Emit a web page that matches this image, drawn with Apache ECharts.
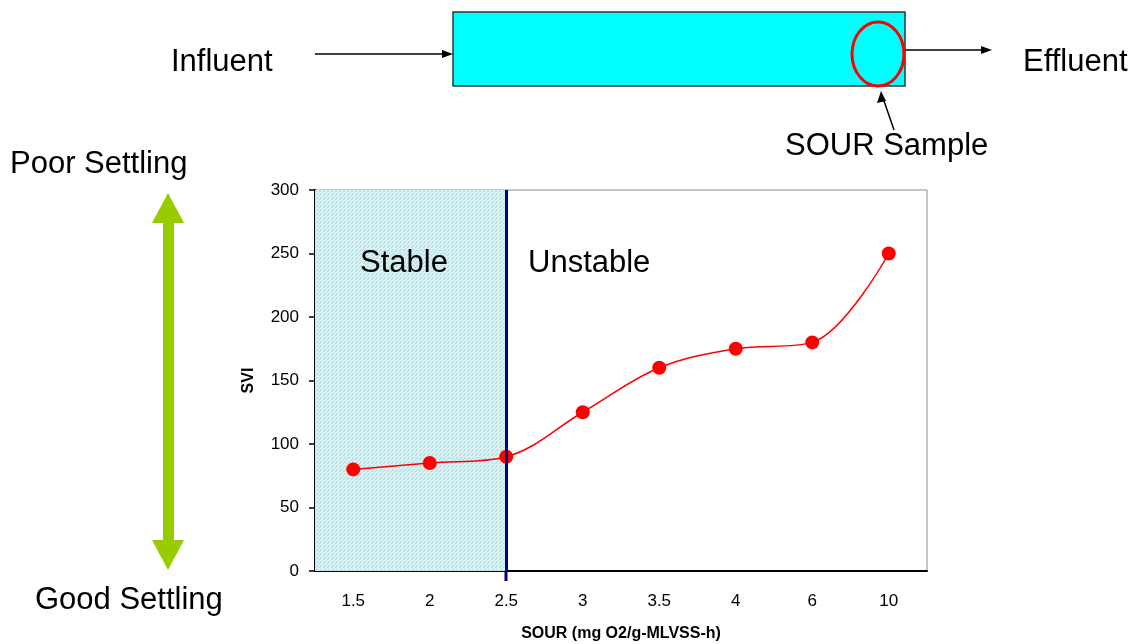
<!DOCTYPE html>
<html>
<head>
<meta charset="utf-8">
<script src="https://cdn.jsdelivr.net/npm/echarts@6/dist/echarts.min.js"></script>
<style>
  html, body { margin: 0; padding: 0; background: #fff; }
  #chart { width: 1134px; height: 644px; }
</style>
</head>
<body>
<div id="chart"></div>
<script>
// SOUR categories on the x axis and SVI values
var sourCats = ['1.5', '2', '2.5', '3', '3.5', '4', '6', '10']
var sviValues = [80, 85, 90, 125, 160, 175, 180, 250]
var sviTicks = [0, 50, 100, 150, 200, 250, 300]
var stableLimit = '2.5'

var FONT = 'Liberation Sans, Arial, sans-serif'

// dotted light cyan fill for the stable zone
function dotPattern () {
  var c = document.createElement('canvas')
  c.width = 4
  c.height = 4
  var ctx = c.getContext('2d')
  ctx.fillStyle = '#d9f0f2'
  ctx.fillRect(0, 0, 4, 4)
  ctx.fillStyle = '#a6d8dc'
  ctx.fillRect(1, 1, 1, 1)
  ctx.fillRect(3, 3, 1, 1)
  ctx.fillRect(0, 2, 1, 1)
  return c
}

var chart = echarts.init(document.getElementById('chart'))

function arrowHead (x, y, dir) {
  // small black head pointing right (dir=1) along a horizontal line
  return {
    type: 'polygon',
    shape: { points: [[x, y], [x - 11 * dir, y - 4], [x - 11 * dir, y + 4]] },
    style: { fill: '#000' }
  }
}

function label (text, x, y) {
  return { type: 'text', x: x, y: y, z: 10, style: { text: text, font: '31px ' + FONT, fill: '#000', verticalAlign: 'middle' } }
}

chart.setOption({
  animation: false,
  grid: {
    left: 315, right: 207, top: 190, bottom: 73,
    outerBoundsMode: 'none',
    show: true, borderColor: '#8c8c8c', borderWidth: 1
  },
  xAxis: {
    type: 'category',
    data: sourCats,
    name: 'SOUR (mg O2/g-MLVSS-h)',
    nameLocation: 'middle',
    nameGap: 55,
    nameTextStyle: { fontFamily: FONT, fontSize: 16, fontWeight: 'bold', color: '#000' },
    axisLine: { lineStyle: { color: '#000', width: 2 } },
    axisTick: { length: 6, lineStyle: { color: '#000', width: 1.5 } },
    axisLabel: { fontFamily: FONT, fontSize: 17, color: '#000', margin: 22 },
    splitLine: { show: false }
  },
  yAxis: {
    type: 'value',
    min: sviTicks[0],
    max: sviTicks[sviTicks.length - 1],
    interval: 50,
    name: 'SVI',
    nameLocation: 'middle',
    nameGap: 58,
    nameTextStyle: { fontFamily: FONT, fontSize: 16, fontWeight: 'bold', color: '#000' },
    axisLine: { show: true, lineStyle: { color: '#000', width: 2 } },
    axisTick: { show: true, length: 6, lineStyle: { color: '#000', width: 1.5 } },
    axisLabel: { fontFamily: FONT, fontSize: 17, color: '#000', margin: 16 },
    splitLine: { show: false }
  },
  series: [
    {
      type: 'line',
      data: sviValues,
      smooth: 0.35,
      symbol: 'circle',
      symbolSize: 14,
      itemStyle: { color: '#ff0000' },
      lineStyle: { color: '#ff0000', width: 1.5 },
      z: 3,
      markArea: {
        silent: true,
        itemStyle: { color: { image: dotPattern(), repeat: 'repeat' } },
        data: [[{}, { xAxis: sourCats.indexOf(stableLimit) }]],
        z: 1
      },
      markLine: {
        silent: true,
        symbol: 'none',
        label: { show: false },
        lineStyle: { color: '#000080', width: 3, type: 'solid' },
        data: [{ xAxis: sourCats.indexOf(stableLimit) }]
      }
    }
  ],
  graphic: [
    // reactor tank
    { type: 'rect', shape: { x: 453, y: 12, width: 452, height: 74 }, style: { fill: '#00ffff', stroke: '#333', lineWidth: 1.5 } },
    { type: 'ellipse', shape: { cx: 878, cy: 54, rx: 26, ry: 32 }, style: { fill: 'none', stroke: '#ff0000', lineWidth: 3 } },
    { type: 'line', shape: { x1: 315, y1: 54, x2: 448, y2: 54 }, style: { stroke: '#000', lineWidth: 1.5 } },
    arrowHead(453, 54, 1),
    { type: 'line', shape: { x1: 905, y1: 50, x2: 982, y2: 50 }, style: { stroke: '#000', lineWidth: 1.5 } },
    arrowHead(992, 50, 1),
    { type: 'line', shape: { x1: 894, y1: 130, x2: 883, y2: 98 }, style: { stroke: '#000', lineWidth: 1.5 } },
    { type: 'polygon', shape: { points: [[881, 91], [877, 103], [886, 101]] }, style: { fill: '#000' } },
    label('Influent', 171, 62),
    label('Effluent', 1023, 62),
    label('SOUR Sample', 785, 146),
    label('Poor Settling', 10, 164),
    label('Good Settling', 35, 600),
    // settling double arrow
    {
      type: 'polygon',
      shape: {
        points: [[168, 193], [184, 223], [174, 223], [174, 540], [184, 540], [168, 570],
          [152, 540], [163, 540], [163, 223], [152, 223]]
      },
      style: { fill: '#99cc00' }
    },
    // zone labels
    label('Stable', 360, 263),
    label('Unstable', 528, 263),
    // navy limit line runs a little below the axis
    { type: 'line', shape: { x1: 506, y1: 571, x2: 506, y2: 581 }, style: { stroke: '#000080', lineWidth: 3 } }
  ]
})
</script>
</body>
</html>
